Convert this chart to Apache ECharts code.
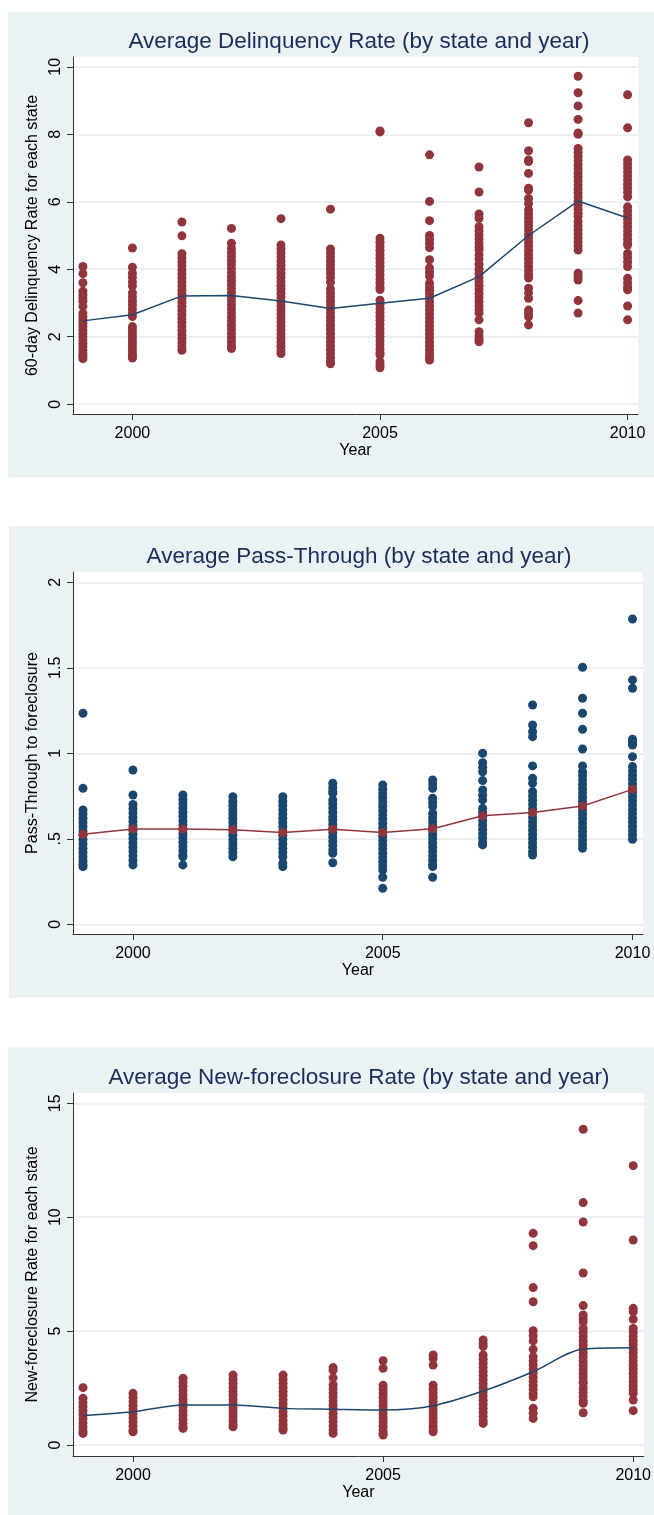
<!DOCTYPE html>
<html>
<head>
<meta charset="utf-8">
<script src="https://cdn.jsdelivr.net/npm/echarts@6/dist/echarts.min.js"></script>
<style>
  html, body { margin: 0; padding: 0; background: #fff; }
  #chart { width: 654px; height: 1515px; }
</style>
</head>
<body>
<div id="chart"></div>
<script>
// years on the x axis
const years = [1999, 2000, 2001, 2002, 2003, 2004, 2005, 2006, 2007, 2008, 2009, 2010];
const yearTicks = [2000, 2005, 2010];

// 60-day delinquency rate, one list per year (states)
const delinquency = [
  [4.08, 3.87, 3.6, 3.35, 3.25, 3.15, 3.05, 2.9, 2.7, 2.6, 2.5, 2.4, 2.3, 2.2, 2.1, 2.0, 1.9, 1.8, 1.7, 1.6, 1.5, 1.42, 1.35],
  [4.63, 4.06, 3.88, 3.76, 3.62, 3.5, 3.3, 3.18, 3.06, 2.94, 2.82, 2.7, 2.6, 2.3, 2.2, 2.1, 2.0, 1.9, 1.8, 1.7, 1.6, 1.5, 1.42, 1.37],
  [5.4, 4.99, 4.46, 4.34, 4.22, 4.1, 3.98, 3.86, 3.74, 3.62, 3.5, 3.38, 3.26, 3.14, 3.02, 2.9, 2.78, 2.66, 2.54, 2.42, 2.3, 2.18, 2.06, 1.94, 1.82, 1.7, 1.6],
  [5.21, 4.77, 4.62, 4.5, 4.38, 4.26, 4.14, 4.02, 3.9, 3.78, 3.66, 3.54, 3.42, 3.3, 3.18, 3.06, 2.94, 2.82, 2.7, 2.58, 2.46, 2.34, 2.22, 2.1, 1.98, 1.86, 1.74, 1.65],
  [5.5, 4.72, 4.6, 4.48, 4.36, 4.24, 4.12, 4.0, 3.88, 3.76, 3.64, 3.52, 3.4, 3.28, 3.16, 3.04, 2.92, 2.8, 2.68, 2.56, 2.44, 2.32, 2.2, 2.08, 1.96, 1.84, 1.72, 1.6, 1.5],
  [5.78, 4.6, 4.48, 4.36, 4.24, 4.12, 4.0, 3.88, 3.76, 3.62, 3.42, 3.3, 3.18, 3.06, 2.94, 2.82, 2.7, 2.58, 2.46, 2.34, 2.22, 2.1, 1.98, 1.86, 1.74, 1.62, 1.5, 1.38, 1.26, 1.2],
  [8.1, 8.07, 4.92, 4.8, 4.68, 4.56, 4.44, 4.32, 4.2, 4.08, 3.96, 3.84, 3.72, 3.6, 3.48, 3.4, 3.08, 2.96, 2.84, 2.72, 2.6, 2.48, 2.36, 2.24, 2.12, 2.0, 1.88, 1.76, 1.64, 1.52, 1.46, 1.26, 1.16, 1.08],
  [7.39, 6.01, 5.44, 5.0, 4.88, 4.76, 4.64, 4.28, 4.04, 3.92, 3.8, 3.58, 3.46, 3.38, 3.28, 3.16, 3.04, 2.92, 2.8, 2.68, 2.56, 2.44, 2.32, 2.2, 2.08, 1.96, 1.84, 1.72, 1.6, 1.48, 1.38, 1.31],
  [7.03, 6.29, 5.64, 5.51, 5.26, 5.14, 5.02, 4.9, 4.78, 4.66, 4.57, 4.42, 4.3, 4.15, 4.0, 3.88, 3.76, 3.64, 3.52, 3.4, 3.28, 3.16, 3.04, 2.92, 2.8, 2.7, 2.5, 2.15, 2.03, 1.92, 1.85],
  [8.34, 7.51, 7.24, 7.19, 6.84, 6.4, 6.35, 6.1, 5.95, 5.76, 5.64, 5.52, 5.4, 5.28, 5.16, 5.04, 4.92, 4.8, 4.68, 4.56, 4.44, 4.32, 4.2, 4.08, 3.96, 3.84, 3.74, 3.44, 3.3, 3.14, 2.79, 2.69, 2.59, 2.35],
  [9.72, 9.23, 8.84, 8.44, 8.04, 8.0, 7.58, 7.46, 7.34, 7.22, 7.1, 6.98, 6.86, 6.74, 6.62, 6.5, 6.38, 6.26, 6.14, 6.02, 5.9, 5.78, 5.66, 5.56, 5.41, 5.29, 5.17, 5.05, 4.93, 4.81, 4.69, 4.57, 3.88, 3.78, 3.68, 3.07, 2.7],
  [9.17, 8.19, 7.24, 7.12, 7.0, 6.88, 6.76, 6.64, 6.52, 6.4, 6.28, 6.15, 5.85, 5.73, 5.61, 5.49, 5.37, 5.25, 5.13, 5.01, 4.89, 4.77, 4.72, 4.47, 4.35, 4.22, 4.08, 3.73, 3.6, 3.48, 3.39, 2.91, 2.5]
];
const delinquencyMean = [2.47, 2.65, 3.21, 3.22, 3.06, 2.84, 2.99, 3.14, 3.78, 5.0, 6.02, 5.52];

// pass-through to foreclosure
const passThrough = [
  [1.234, 0.795, 0.668, 0.645, 0.62, 0.595, 0.57, 0.545, 0.52, 0.495, 0.47, 0.445, 0.42, 0.395, 0.37, 0.35, 0.337],
  [0.902, 0.756, 0.7, 0.675, 0.65, 0.625, 0.6, 0.575, 0.55, 0.525, 0.5, 0.475, 0.45, 0.425, 0.4, 0.375, 0.347],
  [0.756, 0.73, 0.705, 0.68, 0.655, 0.63, 0.605, 0.58, 0.555, 0.53, 0.505, 0.48, 0.455, 0.43, 0.405, 0.395, 0.347],
  [0.746, 0.72, 0.695, 0.67, 0.645, 0.62, 0.595, 0.57, 0.545, 0.52, 0.495, 0.47, 0.445, 0.42, 0.395],
  [0.746, 0.72, 0.695, 0.67, 0.645, 0.62, 0.595, 0.57, 0.545, 0.52, 0.495, 0.47, 0.445, 0.42, 0.395, 0.357, 0.337],
  [0.825, 0.8, 0.78, 0.766, 0.727, 0.705, 0.68, 0.655, 0.629, 0.61, 0.585, 0.56, 0.535, 0.51, 0.485, 0.46, 0.435, 0.415, 0.36],
  [0.815, 0.79, 0.765, 0.74, 0.715, 0.69, 0.665, 0.64, 0.615, 0.59, 0.565, 0.54, 0.515, 0.49, 0.465, 0.44, 0.415, 0.39, 0.365, 0.34, 0.317, 0.275, 0.21],
  [0.844, 0.82, 0.795, 0.737, 0.712, 0.688, 0.649, 0.625, 0.6, 0.575, 0.55, 0.525, 0.5, 0.475, 0.45, 0.425, 0.4, 0.375, 0.35, 0.337, 0.275],
  [1.0, 0.945, 0.918, 0.892, 0.84, 0.785, 0.755, 0.727, 0.678, 0.655, 0.63, 0.605, 0.58, 0.555, 0.53, 0.505, 0.48, 0.464],
  [1.282, 1.165, 1.126, 1.097, 0.926, 0.854, 0.825, 0.776, 0.75, 0.725, 0.7, 0.675, 0.65, 0.625, 0.6, 0.575, 0.55, 0.525, 0.5, 0.475, 0.45, 0.425, 0.405],
  [1.503, 1.322, 1.234, 1.14, 1.025, 0.926, 0.892, 0.868, 0.843, 0.818, 0.793, 0.768, 0.743, 0.718, 0.693, 0.668, 0.643, 0.618, 0.593, 0.568, 0.543, 0.518, 0.493, 0.468, 0.444],
  [1.785, 1.429, 1.38, 1.082, 1.065, 1.048, 0.98, 0.922, 0.897, 0.872, 0.847, 0.822, 0.797, 0.772, 0.747, 0.722, 0.697, 0.672, 0.647, 0.622, 0.597, 0.572, 0.547, 0.522, 0.497]
];
const passThroughMean = [0.526, 0.557, 0.557, 0.552, 0.536, 0.556, 0.536, 0.559, 0.634, 0.653, 0.692, 0.789];

// new-foreclosure rate
const newForeclosure = [
  [2.52, 2.05, 1.87, 1.69, 1.51, 1.33, 1.15, 0.97, 0.79, 0.61, 0.51],
  [2.27, 2.09, 1.91, 1.73, 1.55, 1.37, 1.19, 1.01, 0.83, 0.65, 0.58],
  [2.93, 2.75, 2.57, 2.39, 2.21, 2.03, 1.85, 1.67, 1.49, 1.31, 1.13, 0.95, 0.8, 0.73],
  [3.07, 2.89, 2.71, 2.53, 2.35, 2.17, 1.99, 1.81, 1.63, 1.45, 1.27, 1.09, 0.91, 0.8],
  [3.07, 2.89, 2.71, 2.53, 2.35, 2.17, 1.99, 1.81, 1.63, 1.45, 1.27, 1.09, 0.91, 0.76, 0.66],
  [3.4, 3.28, 2.95, 2.65, 2.47, 2.29, 2.11, 1.93, 1.75, 1.57, 1.39, 1.21, 1.03, 0.85, 0.67, 0.51],
  [3.7, 3.37, 2.63, 2.45, 2.27, 2.09, 1.91, 1.73, 1.55, 1.37, 1.19, 1.01, 0.83, 0.65, 0.5, 0.44],
  [3.95, 3.8, 3.51, 2.63, 2.45, 2.27, 2.09, 1.91, 1.73, 1.55, 1.37, 1.19, 1.01, 0.83, 0.68, 0.58],
  [4.61, 4.45, 4.32, 3.95, 3.77, 3.59, 3.41, 3.23, 3.05, 2.87, 2.69, 2.51, 2.33, 2.15, 1.97, 1.79, 1.61, 1.43, 1.25, 1.07, 0.95],
  [9.29, 8.75, 6.91, 6.29, 5.02, 4.8, 4.58, 4.2, 3.88, 3.7, 3.52, 3.34, 3.16, 2.98, 2.8, 2.62, 2.44, 2.26, 2.12, 1.61, 1.4, 1.17],
  [13.86, 10.64, 9.79, 7.55, 6.12, 5.71, 5.56, 5.41, 5.12, 4.94, 4.76, 4.58, 4.4, 4.22, 4.04, 3.86, 3.68, 3.5, 3.32, 3.14, 2.96, 2.78, 2.71, 2.49, 2.31, 2.13, 1.95, 1.83, 1.42],
  [12.26, 9.0, 6.0, 5.85, 5.52, 5.12, 4.94, 4.76, 4.58, 4.4, 4.22, 4.04, 3.86, 3.68, 3.5, 3.32, 3.14, 2.96, 2.78, 2.6, 2.42, 2.27, 1.98, 1.51]
];
const newForeclosureMean = [1.29, 1.46, 1.76, 1.76, 1.61, 1.57, 1.54, 1.73, 2.37, 3.22, 4.21, 4.27];

// tick labels
const delinquencyTicks = [0, 2, 4, 6, 8, 10];
const passThroughTicks = [0, 0.5, 1, 1.5, 2];
const newForeclosureTicks = [0, 5, 10, 15];

const maroon = "#90353b";
const navy = "#1a476f";
const panelBg = "#eaf2f3";
const font = "'Liberation Sans', Arial, sans-serif";

const panels = [
  {
    title: "Average Delinquency Rate (by state and year)",
    yName: "60-day Delinquency Rate for each state",
    byYear: delinquency, mean: delinquencyMean, ticks: delinquencyTicks,
    yMin: -0.29, yMax: 10.29,
    box: { x: 8, y: 12, h: 466 }, grid: { left: 73, top: 57, width: 565, height: 357 },
    titleTop: 30, dot: maroon, line: navy, markers: false, smooth: false
  },
  {
    title: "Average Pass-Through (by state and year)",
    yName: "Pass-Through to foreclosure",
    byYear: passThrough, mean: passThroughMean, ticks: passThroughTicks,
    yMin: -0.057, yMax: 2.06,
    box: { x: 9, y: 526, h: 472 }, grid: { left: 73, top: 572, width: 570, height: 362 },
    titleTop: 545, dot: navy, line: maroon, markers: true, smooth: false
  },
  {
    title: "Average New-foreclosure Rate (by state and year)",
    yName: "New-foreclosure Rate for each state",
    byYear: newForeclosure, mean: newForeclosureMean, ticks: newForeclosureTicks,
    yMin: -0.48, yMax: 15.45,
    box: { x: 8, y: 1047, h: 468 }, grid: { left: 73, top: 1093, width: 571, height: 363 },
    titleTop: 1066, dot: maroon, line: navy, markers: false, smooth: 0.3
  }
];

function toPoints(byYear) {
  let pts = [];
  byYear.forEach((vals, i) => {
    vals.forEach((v) => pts.push([years[i], v]));
  });
  return pts;
}

let chart = echarts.init(document.getElementById("chart"), null, { renderer: "canvas" });

let option = {
  backgroundColor: "#fff",
  animation: false,
  textStyle: { fontFamily: font },
  title: [], grid: [], xAxis: [], yAxis: [], series: [], graphic: []
};

panels.forEach((p, i) => {
  option.graphic.push({
    type: "rect", z: -10, silent: true,
    shape: { x: p.box.x, y: p.box.y, width: 654 - p.box.x, height: p.box.h },
    style: { fill: panelBg }
  });
  option.graphic.push({
    type: "rect", z: -9, silent: true,
    shape: { x: p.grid.left, y: p.grid.top, width: p.grid.width, height: p.grid.height },
    style: { fill: "#fff" }
  });
  option.title.push({
    text: p.title, left: 359, top: p.titleTop, textAlign: "center", padding: 0,
    textStyle: { fontFamily: font, fontSize: 22.5, fontWeight: "normal", color: "#1c2c5b" }
  });
  option.grid.push({ left: p.grid.left, top: p.grid.top, width: p.grid.width, height: p.grid.height });
  option.xAxis.push({
    gridIndex: i, type: "value", min: 1998.8, max: 2010.21,
    name: "Year", nameLocation: "middle", nameGap: 28,
    nameTextStyle: { fontFamily: font, fontSize: 16, color: "#000" },
    axisLine: { show: true, onZero: false, lineStyle: { color: "#333", width: 1 } },
    axisTick: { show: true, length: 6, customValues: yearTicks, lineStyle: { color: "#333" } },
    axisLabel: {
      customValues: yearTicks, margin: 12, fontFamily: font, fontSize: 16, color: "#000",
      formatter: (v) => String(Math.round(v))
    },
    splitLine: { show: false }
  });
  option.yAxis.push({
    gridIndex: i, type: "value", min: p.yMin, max: p.yMax,
    name: p.yName, nameLocation: "middle", nameGap: 24, nameRotate: 90,
    nameTextStyle: { fontFamily: font, fontSize: 16, color: "#000" },
    axisLine: { show: true, onZero: false, lineStyle: { color: "#333", width: 1 } },
    axisTick: { show: true, length: 6, customValues: p.ticks, lineStyle: { color: "#333" } },
    axisLabel: {
      customValues: p.ticks, rotate: 90, margin: 9, fontFamily: font, fontSize: 16, color: "#000",
      formatter: (v) => String(v).replace(/^0\./, ".")
    },
    splitLine: { show: true, lineStyle: { color: "#e3ebee", width: 1.5 } }
  });
  option.series.push({
    type: "scatter", xAxisIndex: i, yAxisIndex: i,
    data: toPoints(p.byYear), symbolSize: 9,
    itemStyle: { color: p.dot, opacity: 1 }, z: 2
  });
  option.series.push({
    type: "line", xAxisIndex: i, yAxisIndex: i,
    data: years.map((y, k) => [y, p.mean[k]]),
    smooth: p.smooth,
    showSymbol: p.markers, symbol: "circle", symbolSize: 9,
    itemStyle: { color: p.line },
    lineStyle: { color: p.line, width: 1.5 }, z: 3
  });
});

chart.setOption(option);
</script>
</body>
</html>
